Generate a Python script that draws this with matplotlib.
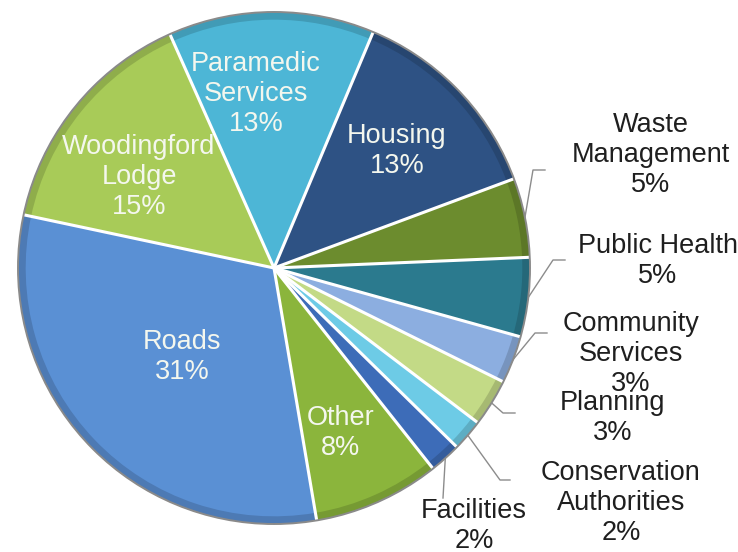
import matplotlib
matplotlib.use('Agg')
import matplotlib.pyplot as plt
import numpy as np
from matplotlib.patches import Wedge, Circle
import matplotlib.colors as mcolors

# ---- data ----
categories = ["Paramedic Services", "Housing", "Waste Management", "Public Health",
              "Community Services", "Planning", "Conservation Authorities",
              "Facilities", "Other", "Roads", "Woodingford Lodge"]
display_names = ["Paramedic\nServices", "Housing", "Waste\nManagement", "Public Health",
                 "Community\nServices", "Planning", "Conservation\nAuthorities",
                 "Facilities", "Other", "Roads", "Woodingford\nLodge"]
shares = [13, 13, 5, 5, 3, 3, 2, 2, 8, 31, 15]
colors = ["#4DB6D6", "#2E5284", "#6C8C2E", "#2B7A8E", "#8CAEE0", "#C3DA86",
          "#6DCBE6", "#3D6CB8", "#8BB53C", "#5A90D4", "#A8CB58"]

# ---- layout (image pixel coords, y from top) ----
W, H = 738, 552
inside = {  # label centre
    "Paramedic Services": (256, 94),
    "Housing": (397, 151),
    "Other": (341, 433),
    "Roads": (182, 357),
    "Woodingford Lodge": (139, 177),
}
outside = {  # label centre, elbow point, line end
    "Waste Management": ((651, 155), (533, 170), (545, 170)),
    "Public Health": ((658, 261), (553, 260), (565, 260)),
    "Community Services": ((631, 354), (535, 333), (547, 333)),
    "Planning": ((613, 418), (503, 413), (515, 413)),
    "Conservation Authorities": ((621, 503), (500, 480), (510, 480)),
    "Facilities": ((474, 526), (443, 498), (443, 498)),
}

def P(x, y):
    return (x, H - y)

fig = plt.figure(figsize=(7.38, 5.52), dpi=100)
ax = fig.add_axes([0, 0, 1, 1])

cx, cy = P(274, 268)
R = 256

wedges, _ = ax.pie(shares, colors=colors, startangle=114, counterclock=False,
                   center=(cx, cy), radius=R,
                   wedgeprops=dict(edgecolor='none', linewidth=0))

# bevel rims
for w, c in zip(wedges, colors):
    rgb = np.array(mcolors.to_rgb(c))
    dark = tuple(rgb * 0.85)
    ax.add_patch(Wedge((cx, cy), R, w.theta1, w.theta2, width=R * 0.03,
                       facecolor=dark, edgecolor='none', zorder=2))

# white separators
for w in wedges:
    a = np.deg2rad(w.theta1)
    ax.plot([cx, cx + R * np.cos(a)], [cy, cy + R * np.sin(a)],
            color='white', lw=2.2, zorder=3, solid_capstyle='butt')

ax.add_patch(Circle((cx, cy), R, fill=False, edgecolor='#8a8a8a', lw=1.4, zorder=4))

font = dict(family=['Liberation Sans', 'DejaVu Sans'], fontsize=19.5)

for name, disp, val, w in zip(categories, display_names, shares, wedges):
    txt = f"{disp}\n{val}%"
    if name in inside:
        x, y = P(*inside[name])
        ax.text(x, y, txt, ha='center', va='center', color='#F4F7EE',
                linespacing=1.2, zorder=5, **font)
    else:
        (lx, ly), (ex, ey), (hx, hy) = outside[name]
        x, y = P(lx, ly)
        ax.text(x, y, txt, ha='center', va='center', color='#1f1f1f',
                linespacing=1.2, zorder=5, **font)
        mid = np.deg2rad((w.theta1 + w.theta2) / 2)
        sx, sy = cx + R * np.cos(mid), cy + R * np.sin(mid)
        ex2, ey2 = P(ex, ey)
        hx2, hy2 = P(hx, hy)
        ax.plot([sx, ex2, hx2], [sy, ey2, hy2], color='#8c8c8c', lw=1.0, zorder=1)

ax.set_xlim(0, W)
ax.set_ylim(0, H)
ax.set_aspect('equal')
ax.axis('off')

fig.savefig('out.png', dpi=100, facecolor='white')
